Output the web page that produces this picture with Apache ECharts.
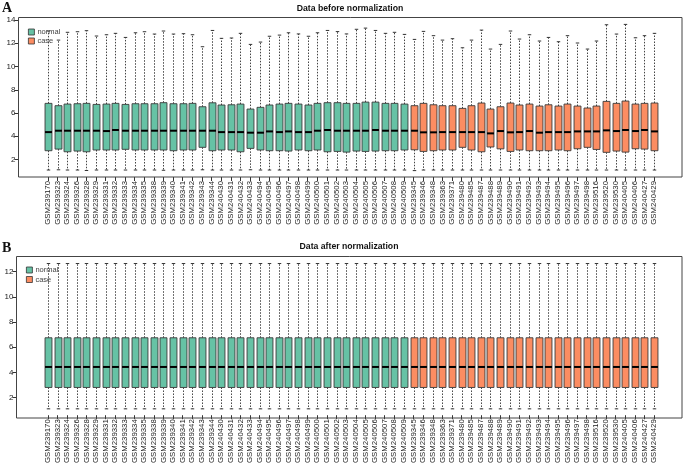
<!DOCTYPE html>
<html><head><meta charset="utf-8">
<script src="https://cdn.jsdelivr.net/npm/echarts@6/dist/echarts.min.js"></script>
<style>html,body{margin:0;padding:0;background:#fff}#c{width:685px;height:466px}</style>
</head><body><div id="c"></div>
<script>
// ---------- data ----------
const samples = ['GSM239170','GSM239323','GSM239324','GSM239326','GSM239328','GSM239329','GSM239331','GSM239332','GSM239333','GSM239334','GSM239335','GSM239338','GSM239339','GSM239340','GSM239341','GSM239342','GSM239343','GSM239344','GSM240430','GSM240431','GSM240432','GSM240433','GSM240494','GSM240495','GSM240496','GSM240497','GSM240498','GSM240499','GSM240500','GSM240501','GSM240502','GSM240503','GSM240504','GSM240505','GSM240506','GSM240507','GSM240508','GSM240509','GSM239345','GSM239346','GSM239348','GSM239363','GSM239371','GSM239480','GSM239485','GSM239487','GSM239488','GSM239489','GSM239490','GSM239491','GSM239492','GSM239493','GSM239494','GSM239495','GSM239496','GSM239497','GSM239498','GSM239516','GSM239520','GSM239530','GSM240405','GSM240406','GSM240427','GSM240429'];
const groupNames = ['normal','case'];
const normalCount = 38; // first 38 samples are "normal", the rest "case"

// Panel A: before normalization
const upperA = [13.05,12.27,12.94,12.99,13.08,12.62,12.73,12.85,12.50,12.90,12.99,12.79,13.05,12.79,12.82,12.73,11.70,13.10,12.42,12.45,12.85,11.90,12.10,12.60,12.70,12.90,12.80,12.60,12.90,13.10,13.00,12.80,13.20,13.30,13.10,12.85,12.94,12.76,12.33,13.02,12.65,12.27,12.39,11.61,12.27,13.13,11.50,11.90,13.05,12.36,12.73,12.19,12.50,12.13,12.65,12.02,11.50,12.19,13.59,12.79,13.62,12.47,12.65,12.85];
const q3A = [6.83,6.63,6.77,6.80,6.83,6.74,6.77,6.83,6.74,6.80,6.80,6.80,6.89,6.80,6.80,6.83,6.54,6.88,6.69,6.71,6.77,6.34,6.49,6.69,6.77,6.83,6.77,6.69,6.83,6.89,6.89,6.83,6.83,6.94,6.94,6.83,6.83,6.77,6.63,6.83,6.71,6.63,6.63,6.40,6.63,6.86,6.34,6.54,6.86,6.69,6.77,6.60,6.71,6.60,6.77,6.60,6.43,6.60,7.00,6.83,7.03,6.77,6.83,6.86];
const medA = [4.36,4.48,4.48,4.48,4.48,4.48,4.45,4.54,4.48,4.48,4.48,4.48,4.48,4.48,4.48,4.48,4.48,4.48,4.36,4.36,4.36,4.31,4.31,4.42,4.36,4.42,4.36,4.36,4.48,4.54,4.48,4.48,4.48,4.48,4.54,4.48,4.48,4.48,4.48,4.34,4.34,4.36,4.36,4.36,4.36,4.36,4.25,4.45,4.34,4.36,4.45,4.31,4.36,4.36,4.36,4.42,4.42,4.42,4.51,4.45,4.54,4.45,4.54,4.42];
const q1A = [2.76,2.90,2.67,2.73,2.67,2.82,2.82,2.82,2.88,2.82,2.82,2.82,2.82,2.76,2.82,2.82,3.05,2.76,2.82,2.82,2.67,2.96,2.82,2.76,2.76,2.73,2.82,2.76,2.82,2.67,2.70,2.64,2.73,2.70,2.73,2.76,2.76,2.82,2.84,2.70,2.76,2.82,2.82,3.05,2.82,2.67,3.08,2.92,2.70,2.82,2.76,2.76,2.76,2.82,2.76,2.93,3.05,2.87,2.62,2.73,2.64,2.93,2.90,2.76];
const lowerA = [1.10,1.12,1.10,1.10,1.06,1.10,1.10,1.10,1.10,1.10,1.10,1.10,1.08,1.10,1.10,1.10,1.12,1.10,1.10,1.10,1.10,1.12,1.10,1.10,1.10,1.10,1.10,1.10,1.10,1.10,1.10,1.10,1.10,1.10,1.10,1.10,1.10,1.10,1.05,1.10,1.10,1.10,1.10,1.10,1.10,1.10,1.10,1.10,1.10,1.10,1.10,1.10,1.10,1.10,1.10,1.10,1.10,1.10,1.10,1.10,1.10,1.10,1.10,1.10];

// Panel B: after normalization (identical distributions)
const upperB = [12.65,12.65,12.65,12.65,12.65,12.65,12.65,12.65,12.65,12.65,12.65,12.65,12.65,12.65,12.65,12.65,12.65,12.65,12.65,12.65,12.65,12.65,12.65,12.65,12.65,12.65,12.65,12.65,12.65,12.65,12.65,12.65,12.65,12.65,12.65,12.65,12.65,12.65,12.65,12.65,12.65,12.65,12.65,12.65,12.65,12.65,12.65,12.65,12.65,12.65,12.65,12.65,12.65,12.65,12.65,12.65,12.65,12.65,12.65,12.65,12.65,12.65,12.65,12.65];
const q3B = [6.75,6.75,6.75,6.75,6.75,6.75,6.75,6.75,6.75,6.75,6.75,6.75,6.75,6.75,6.75,6.75,6.75,6.75,6.75,6.75,6.75,6.75,6.75,6.75,6.75,6.75,6.75,6.75,6.75,6.75,6.75,6.75,6.75,6.75,6.75,6.75,6.75,6.75,6.75,6.75,6.75,6.75,6.75,6.75,6.75,6.75,6.75,6.75,6.75,6.75,6.75,6.75,6.75,6.75,6.75,6.75,6.75,6.75,6.75,6.75,6.75,6.75,6.75,6.75];
const medB = [4.43,4.43,4.43,4.43,4.43,4.43,4.43,4.43,4.43,4.43,4.43,4.43,4.43,4.43,4.43,4.43,4.43,4.43,4.43,4.43,4.43,4.43,4.43,4.43,4.43,4.43,4.43,4.43,4.43,4.43,4.43,4.43,4.43,4.43,4.43,4.43,4.43,4.43,4.43,4.43,4.43,4.43,4.43,4.43,4.43,4.43,4.43,4.43,4.43,4.43,4.43,4.43,4.43,4.43,4.43,4.43,4.43,4.43,4.43,4.43,4.43,4.43,4.43,4.43];
const q1B = [2.80,2.80,2.80,2.80,2.80,2.80,2.80,2.80,2.80,2.80,2.80,2.80,2.80,2.80,2.80,2.80,2.80,2.80,2.80,2.80,2.80,2.80,2.80,2.80,2.80,2.80,2.80,2.80,2.80,2.80,2.80,2.80,2.80,2.80,2.80,2.80,2.80,2.80,2.80,2.80,2.80,2.80,2.80,2.80,2.80,2.80,2.80,2.80,2.80,2.80,2.80,2.80,2.80,2.80,2.80,2.80,2.80,2.80,2.80,2.80,2.80,2.80,2.80,2.80];
const lowerB = [1.10,1.10,1.10,1.10,1.10,1.10,1.10,1.10,1.10,1.10,1.10,1.10,1.10,1.10,1.10,1.10,1.10,1.10,1.10,1.10,1.10,1.10,1.10,1.10,1.10,1.10,1.10,1.10,1.10,1.10,1.10,1.10,1.10,1.10,1.10,1.10,1.10,1.10,1.10,1.10,1.10,1.10,1.10,1.10,1.10,1.10,1.10,1.10,1.10,1.10,1.10,1.10,1.10,1.10,1.10,1.10,1.10,1.10,1.10,1.10,1.10,1.10,1.10,1.10];

const yTicksA = [2,4,6,8,10,12,14];
const yTicksB = [2,4,6,8,10,12];
const titleA = 'Data before normalization';
const titleB = 'Data after normalization';
const colors = ['#66C2A5','#FC8D62'];

// ---------- build ----------
function items(lo, q1, md, q3, hi, from, to) {
  const out = [];
  for (let i = from; i < to; i++) out.push([i, lo[i], q1[i], md[i], q3[i], hi[i]]);
  return out;
}
function renderBox(params, api) {
  const x = api.value(0);
  const band = api.size([1, 0])[0];
  const bw = band * 0.72, cw = band * 0.36;
  const pLo = api.coord([x, api.value(1)]);
  const pQ1 = api.coord([x, api.value(2)]);
  const pMd = api.coord([x, api.value(3)]);
  const pQ3 = api.coord([x, api.value(4)]);
  const pHi = api.coord([x, api.value(5)]);
  const cx = Math.round(pMd[0]) + 0.5;
  const dash = {stroke: '#444', lineWidth: 1, lineDash: [1.5, 1.5], fill: null};
  const solid = {stroke: '#333', lineWidth: 1, fill: null};
  return {
    type: 'group',
    children: [
      {type: 'line', shape: {x1: cx, y1: pQ3[1], x2: cx, y2: pHi[1]}, style: dash},
      {type: 'line', shape: {x1: cx, y1: pQ1[1], x2: cx, y2: pLo[1]}, style: dash},
      {type: 'line', shape: {x1: cx - cw / 2, y1: pHi[1], x2: cx + cw / 2, y2: pHi[1]}, style: solid},
      {type: 'line', shape: {x1: cx - cw / 2, y1: pLo[1], x2: cx + cw / 2, y2: pLo[1]}, style: solid},
      {type: 'rect', shape: {x: cx - bw / 2, y: pQ3[1], width: bw, height: pQ1[1] - pQ3[1]},
        style: {fill: api.visual('color'), stroke: '#3a3a3a', lineWidth: 0.9}},
      {type: 'line', shape: {x1: cx - bw / 2, y1: pMd[1], x2: cx + bw / 2, y2: pMd[1]},
        style: {stroke: '#000', lineWidth: 2}}
    ]
  };
}
function seriesFor(idx, lo, q1, md, q3, hi) {
  return [
    {name: groupNames[0], type: 'custom', xAxisIndex: idx, yAxisIndex: idx, renderItem: renderBox,
      itemStyle: {color: colors[0]}, encode: {x: 0, y: [1,2,3,4,5]},
      data: items(lo, q1, md, q3, hi, 0, normalCount), silent: true, animation: false},
    {name: groupNames[1], type: 'custom', xAxisIndex: idx, yAxisIndex: idx, renderItem: renderBox,
      itemStyle: {color: colors[1]}, encode: {x: 0, y: [1,2,3,4,5]},
      data: items(lo, q1, md, q3, hi, normalCount, samples.length), silent: true, animation: false}
  ];
}
const FONT = 'Liberation Sans';
function xAxis(idx) {
  return {
    type: 'category', gridIndex: idx, data: samples, boundaryGap: true,
    axisLine: {show: false},
    axisTick: {show: true, alignWithLabel: true, interval: 0, length: 4, lineStyle: {color: '#333', width: 1}},
    axisLabel: {interval: 0, rotate: 90, fontSize: 7.8, fontFamily: FONT, color: '#222', margin: 4},
    splitLine: {show: false}
  };
}
function yAxis(idx, min, max, ticks, offset) {
  return {
    type: 'value', gridIndex: idx, min: min, max: max, offset: offset,
    axisLine: {show: false},
    axisTick: {show: true, length: 4, customValues: ticks, lineStyle: {color: '#333', width: 1}},
    axisLabel: {customValues: ticks, fontSize: 8, fontFamily: FONT, color: '#222', margin: 3},
    splitLine: {show: false}
  };
}
const gridLeft = 43.2, gridRight = 26.2;
const option = {
  backgroundColor: '#fff',
  animation: false,
  grid: [
    {left: gridLeft, right: gridRight, top: 18, height: 159},
    {left: gridLeft, right: gridRight, top: 257, height: 161}
  ],
  xAxis: [xAxis(0), xAxis(1)],
  yAxis: [yAxis(0, 0.5, 14.17, yTicksA, gridLeft - 18.5), yAxis(1, 0.594, 13.17, yTicksB, gridLeft - 16.5)],
  legend: [
    {data: groupNames, orient: 'vertical', left: 23, top: 23, itemWidth: 6, itemHeight: 6, itemGap: 1,
      icon: 'rect', selectedMode: false,
      itemStyle: {borderColor: '#333', borderWidth: 0.8},
      textStyle: {fontSize: 7.5, fontFamily: FONT, color: '#444', lineHeight: 8, padding: [0,0,0,-2]}},
    {data: groupNames, orient: 'vertical', left: 21, top: 261, itemWidth: 6, itemHeight: 6, itemGap: 1.5,
      icon: 'rect', selectedMode: false,
      itemStyle: {borderColor: '#333', borderWidth: 0.8},
      textStyle: {fontSize: 7.5, fontFamily: FONT, color: '#444', lineHeight: 8, padding: [0,0,0,-2]}}
  ],
  graphic: [
    {type: 'rect', shape: {x: 18.5, y: 17.5, width: 663.5, height: 159.5}, style: {fill: null, stroke: '#444', lineWidth: 1}, silent: true, z: 10},
    {type: 'rect', shape: {x: 16.5, y: 256.5, width: 665.5, height: 161.5}, style: {fill: null, stroke: '#444', lineWidth: 1}, silent: true, z: 10},
    {type: 'text', style: {text: titleA, x: 350, y: 9, align: 'center', verticalAlign: 'middle', font: 'bold 8.7px "Liberation Sans"', fill: '#111'}},
    {type: 'text', style: {text: titleB, x: 349, y: 247, align: 'center', verticalAlign: 'middle', font: 'bold 8.7px "Liberation Sans"', fill: '#111'}},
    {type: 'text', style: {text: 'A', x: 2, y: 8, verticalAlign: 'middle', font: 'bold 14px "Liberation Serif"', fill: '#111'}},
    {type: 'text', style: {text: 'B', x: 2, y: 248, verticalAlign: 'middle', font: 'bold 14px "Liberation Serif"', fill: '#111'}}
  ],
  series: [].concat(seriesFor(0, lowerA, q1A, medA, q3A, upperA), seriesFor(1, lowerB, q1B, medB, q3B, upperB))
};
const chart = echarts.init(document.getElementById('c'), null, {renderer: 'canvas'});
chart.setOption(option);
</script>
</body></html>
